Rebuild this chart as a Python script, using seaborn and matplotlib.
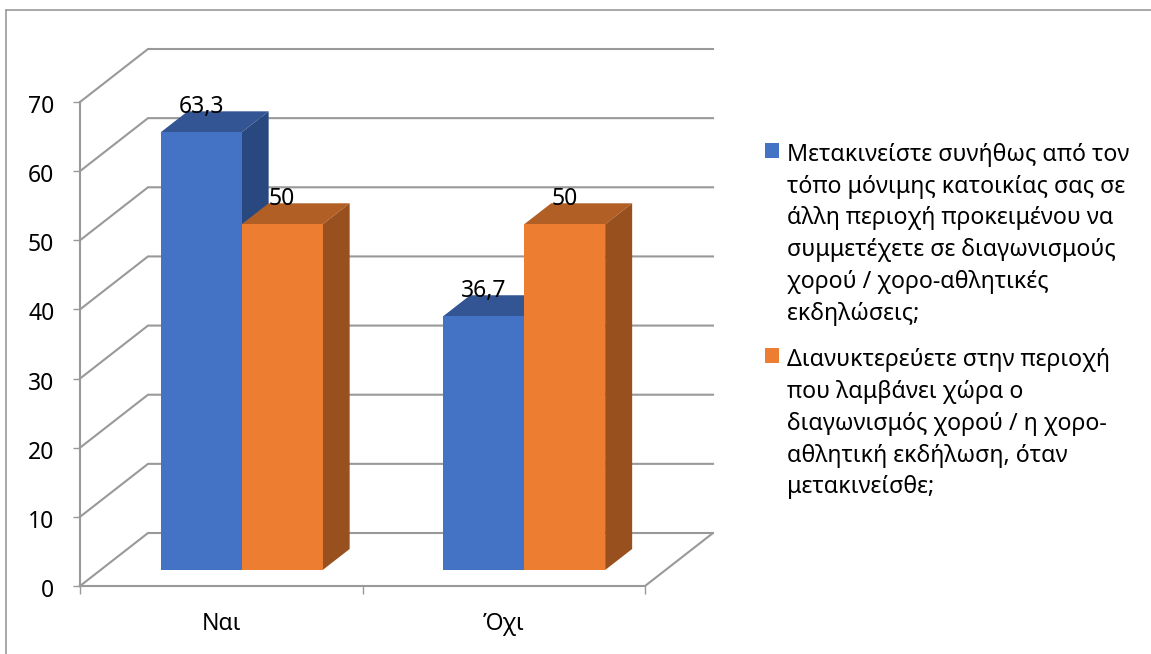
import matplotlib
matplotlib.use("Agg")
import matplotlib.pyplot as plt
from matplotlib.lines import Line2D
from matplotlib.offsetbox import HPacker
from matplotlib.patches import Polygon
from matplotlib.transforms import ScaledTranslation
import pandas as pd
import seaborn as sns

categories = ["Ναι", "Όχι"]
series_a = "Μετακινείστε συνήθως από τον\nτόπο μόνιμης κατοικίας σας σε\nάλλη περιοχή προκειμένου να\nσυμμετέχετε σε διαγωνισμούς\nχορού / χορο-αθλητικές\nεκδηλώσεις;"
series_b = "Διανυκτερεύετε στην περιοχή\nπου λαμβάνει χώρα ο\nδιαγωνισμός χορού / η χορο-\nαθλητική εκδήλωση, όταν\nμετακινείσθε;"
values_a = [63.3, 36.7]
values_b = [50, 50]
y_ticks = [0, 10, 20, 30, 40, 50, 60, 70]

FRONT = {series_a: "#4472C4", series_b: "#ED7D31"}
TOP = {series_a: "#335593", series_b: "#B15F24"}
SIDE = {series_a: "#2A4880", series_b: "#97501E"}
GRID = "#999999"

W, H = 1151, 654
AX_L, AX_R, AX_T, AX_B = 80, 645, 102, 586

sns.set_theme(style="white")
plt.rcParams["font.family"] = ["Noto Sans", "DejaVu Sans"]

fig = plt.figure(figsize=(W / 100, H / 100), dpi=100, facecolor="white")
ax = fig.add_axes([AX_L / W, 1 - AX_B / H, (AX_R - AX_L) / W, (AX_B - AX_T) / H])

table = pd.DataFrame({
    "category": categories * 2,
    "value": values_a + values_b,
    "series": [series_a] * 2 + [series_b] * 2,
})
sns.barplot(data=table, x="category", y="value", hue="series", palette=FRONT,
            width=0.5735, gap=0, saturation=1, ax=ax, legend=False, linewidth=0)

ax.set_xlim(-0.5, 1.5)
ax.set_ylim(0, 70)
x_unit = 2 / (AX_R - AX_L)
y_unit = 70 / (AX_B - AX_T)

# Back wall, floor and side wall of the oblique box
wall_dx, wall_dy = 68 * x_unit, 53 * y_unit
for v in y_ticks:
    ax.plot([-0.5, -0.5 + wall_dx, 1.5 + wall_dx], [v, v + wall_dy, v + wall_dy],
            color=GRID, lw=1.5, clip_on=False, zorder=1,
            solid_joinstyle="miter", solid_capstyle="projecting")
ax.plot([1.5, 1.5 + wall_dx], [0, wall_dy], color=GRID, lw=1.5, clip_on=False, zorder=1)

# Bars sit part-way into the box; each one gets a top and a side face
shift_x, shift_y = 20.4 * x_unit, 16 * y_unit
depth_x, depth_y = 27 * x_unit, 21 * y_unit
series_order = [series_a] * 2 + [series_b] * 2
for n, (bar, name) in enumerate(zip(ax.patches, series_order)):
    level = 3 if name == series_a else 4
    height = bar.get_height()
    x0 = bar.get_x() + shift_x
    x1 = x0 + bar.get_width()
    y0, y1 = shift_y, shift_y + height
    bar.set_x(x0)
    bar.set_y(y0)
    bar.set_clip_on(False)
    bar.set_zorder(level + 0.5)
    ax.add_patch(Polygon([(x0, y1), (x1, y1), (x1 + depth_x, y1 + depth_y), (x0 + depth_x, y1 + depth_y)],
                         facecolor=TOP[name], edgecolor="none", clip_on=False, zorder=level))
    ax.add_patch(Polygon([(x1, y0), (x1 + depth_x, y0 + depth_y), (x1 + depth_x, y1 + depth_y), (x1, y1)],
                         facecolor=SIDE[name], edgecolor="none", clip_on=False, zorder=level))
    ax.annotate(f"{height:g}".replace(".", ","), ((x0 + x1) / 2, y1), xytext=(0, 18),
                textcoords="offset points", ha="center", va="center",
                fontsize=16.5, color="black", zorder=6, annotation_clip=False)

# Axes
sns.despine(ax=ax, top=True, right=True)
for side in ("left", "bottom"):
    ax.spines[side].set_color(GRID)
    ax.spines[side].set_linewidth(1.5)
    ax.spines[side].set_zorder(2)
ax.set_xlabel("")
ax.set_ylabel("")
ax.set_yticks(y_ticks)
ax.set_xticks([0, 1], labels=categories, minor=True)
ax.set_xticks([-0.5, 0.5, 1.5], labels=[])
ax.tick_params(axis="y", length=5, width=1, color=GRID, left=True, labelsize=16.5, labelcolor="black", pad=13.5)
ax.tick_params(axis="x", which="major", length=6, width=1, color=GRID, bottom=True)
ax.tick_params(axis="x", which="minor", length=0, labelsize=16.5, labelcolor="black", pad=19)
ax.patch.set_alpha(0)

# Value-axis numbers sit slightly below their tick marks
nudge = ScaledTranslation(0, -2 / 100, fig.dpi_scale_trans)
for label in ax.get_yticklabels():
    label.set_transform(label.get_transform() + nudge)

# Outer chart frame
fig.add_artist(Line2D([6 / W, 6 / W], [0, 1 - 10 / H], color=GRID, lw=1.2))
fig.add_artist(Line2D([6 / W, 1], [1 - 10 / H, 1 - 10 / H], color=GRID, lw=1.2))

# Legend with swatches aligned to the first line of each wrapped label
handles = [plt.Rectangle((0, 0), 1, 1, facecolor=FRONT[s], edgecolor="none") for s in (series_a, series_b)]
legend = fig.legend(handles, [series_a, series_b], loc="upper left",
                    bbox_to_anchor=(765 / W, 1 - 143 / H), frameon=False, fontsize=16.75,
                    borderpad=0, borderaxespad=0, handlelength=0.6, handleheight=0.6,
                    handletextpad=0.34, labelspacing=0.98)
for box in legend.findobj(HPacker):
    box.align = "top"
for text in legend.get_texts():
    text.set_linespacing(1.43)
    text.set_color("black")

fig.savefig("out.png", dpi=100)
